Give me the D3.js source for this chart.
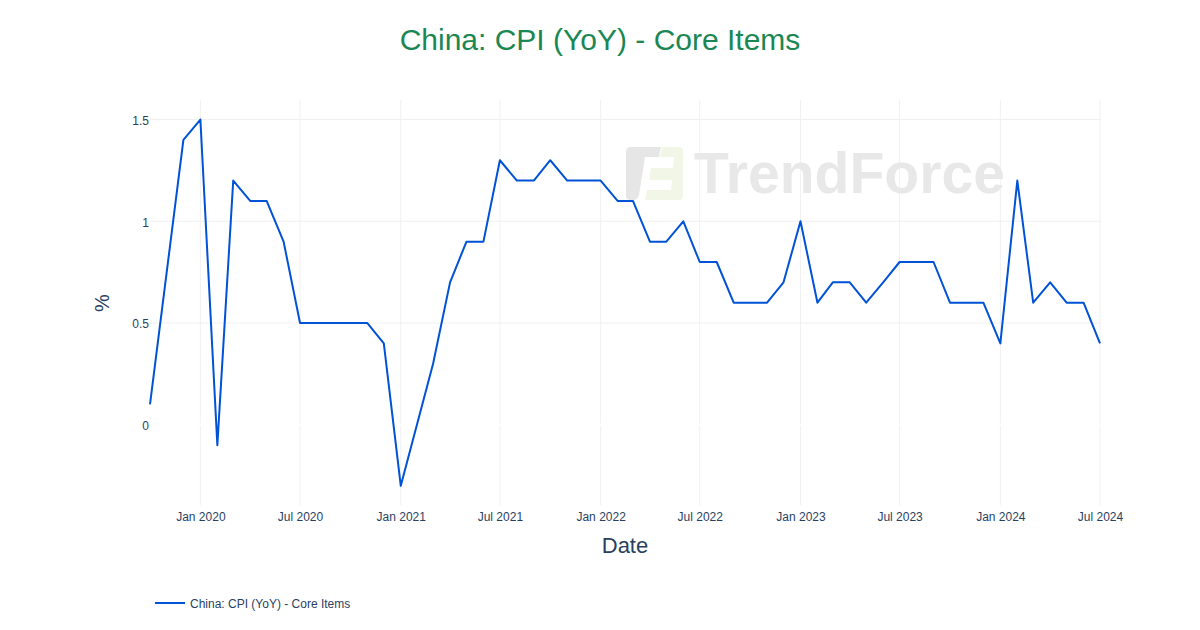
<!DOCTYPE html>
<html>
<head>
<meta charset="utf-8">
<script src="https://cdn.jsdelivr.net/npm/d3@7"></script>
<style>
html,body{margin:0;padding:0;background:#fff;}
svg{display:block;font-family:"Liberation Sans",Arial,sans-serif;}
</style>
</head>
<body>
<svg id="chart" width="1200" height="630"></svg>
<script>
const months = ["2019-10","2019-12","2020-01","2020-02","2020-03","2020-04","2020-05","2020-06","2020-07","2020-08","2020-09","2020-10","2020-11","2020-12","2021-01","2021-03","2021-04","2021-05","2021-06","2021-07","2021-08","2021-09","2021-10","2021-11","2021-12","2022-01","2022-02","2022-03","2022-04","2022-05","2022-06","2022-07","2022-08","2022-09","2022-10","2022-11","2022-12","2023-01","2023-02","2023-03","2023-04","2023-05","2023-06","2023-07","2023-08","2023-09","2023-10","2023-11","2023-12","2024-01","2024-02","2024-03","2024-04","2024-05","2024-06","2024-07"];
const values = [0.1,1.4,1.5,-0.1,1.2,1.1,1.1,0.9,0.5,0.5,0.5,0.5,0.5,0.4,-0.3,0.3,0.7,0.9,0.9,1.3,1.2,1.2,1.3,1.2,1.2,1.2,1.1,1.1,0.9,0.9,1.0,0.8,0.8,0.6,0.6,0.6,0.7,1.0,0.6,0.7,0.7,0.6,0.7,0.8,0.8,0.8,0.6,0.6,0.6,0.4,1.2,0.6,0.7,0.6,0.6,0.4];
const yTicks = [0, 0.5, 1, 1.5];
const yTickLabels = ["0","0.5","1","1.5"];
const xTicks = ["2020-01","2020-07","2021-01","2021-07","2022-01","2022-07","2023-01","2023-07","2024-01","2024-07"];
const seriesName = "China: CPI (YoY) - Core Items";
const titleText = "China: CPI (YoY) - Core Items";

(function(){
const parse = d3.timeParse("%Y-%m");
const data = months.map((m,i)=>({date:parse(m), value:values[i]}));

const svg = d3.select("#chart");
const pL = 150, pR = 1100, pT = 100, pB = 505;

const x = d3.scaleTime().domain([parse("2019-10"), parse("2024-07")]).range([pL, pR]);
const y = d3.scaleLinear().domain([-0.394, 1.596]).range([pB, pT]);

// grid
const g = svg.append("g");
g.selectAll(".vg").data(xTicks.map(parse)).enter().append("line")
  .attr("x1", d=>x(d)).attr("x2", d=>x(d)).attr("y1", pT).attr("y2", pB)
  .attr("stroke", "#f0f0f0").attr("stroke-width", 1);
g.selectAll(".hg").data(yTicks.filter(d=>d!==0)).enter().append("line")
  .attr("x1", pL).attr("x2", pR).attr("y1", d=>y(d)).attr("y2", d=>y(d))
  .attr("stroke", "#f0f0f0").attr("stroke-width", 1);
// zero line (white)
g.append("line").attr("x1", pL).attr("x2", pR).attr("y1", y(0)).attr("y2", y(0))
  .attr("stroke", "#ffffff").attr("stroke-width", 2);

// watermark
const wm = svg.append("g");
wm.append("path").attr("d", "M631,147 L661,147 L659,157 L645,157 L639,195 Q638,200 633,200 L630,200 Q626,200 626,196 L626,152 Q626,147 631,147 Z").attr("fill", "#e6e6e6");
wm.append("path").attr("d", "M662,147 L679,147 Q683,147 683,151 L683,196 Q683,200 679,200 L645,200 L647,190 L671,190 L672,180 L649,180 L651,168 L673,168 L674,157 L660,157 Z").attr("fill", "#f1f6e6");
wm.append("text").attr("x", 694).attr("y", 193).attr("font-size", 58).attr("font-weight", "bold")
  .attr("textLength", 311).attr("lengthAdjust", "spacingAndGlyphs")
  .attr("fill", "#e8e8e8").text("TrendForce");

// axes labels
const xa = svg.append("g").attr("transform", `translate(0,${pB})`)
  .call(d3.axisBottom(x).tickValues(xTicks.map(parse)).tickFormat(d3.timeFormat("%b %Y")).tickSize(0).tickPadding(7));
xa.select(".domain").remove();
xa.selectAll("text").attr("font-size", 12).attr("fill", "#2a3f5f").attr("font-family", "Liberation Sans, Arial, sans-serif");

const ya = svg.append("g").attr("transform", `translate(${pL},1)`)
  .call(d3.axisLeft(y).tickValues(yTicks).tickFormat((d,i)=>yTickLabels[i]).tickSize(0).tickPadding(1));
ya.select(".domain").remove();
ya.selectAll("text").attr("font-size", 12).attr("fill", "#2a3f5f").attr("font-family", "Liberation Sans, Arial, sans-serif");

// line
const line = d3.line().x(d=>x(d.date)).y(d=>y(d.value));
svg.append("path").datum(data).attr("d", line).attr("fill", "none")
  .attr("stroke", "#0052d6").attr("stroke-width", 2).attr("stroke-linejoin", "round");

// titles
svg.append("text").attr("x", 600).attr("y", 50).attr("text-anchor", "middle")
  .attr("font-size", 30).attr("fill", "#1b8753").text(titleText);
svg.append("text").attr("x", 625).attr("y", 553).attr("text-anchor", "middle")
  .attr("font-size", 22).attr("fill", "#2a3f5f").text("Date");
svg.append("text").attr("transform", "translate(109,303) rotate(-90)").attr("text-anchor", "middle")
  .attr("font-size", 20).attr("fill", "#2a3f5f").text("%");

// legend
svg.append("line").attr("x1", 155).attr("x2", 185).attr("y1", 603).attr("y2", 603)
  .attr("stroke", "#0052d6").attr("stroke-width", 2);
svg.append("text").attr("x", 190).attr("y", 608).attr("font-size", 12).attr("fill", "#2a3f5f").text(seriesName);
})();
</script>
</body>
</html>
